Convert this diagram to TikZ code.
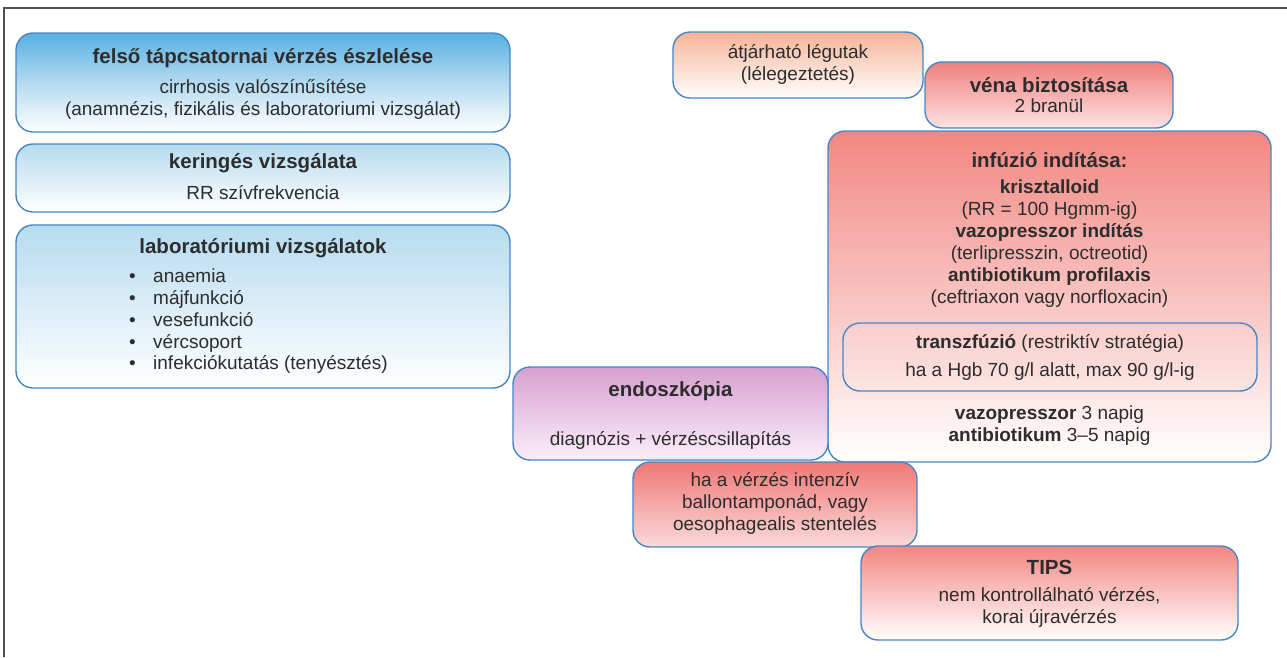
\documentclass[tikz,border=0pt]{standalone}
\usepackage{fontspec}
\setmainfont{Liberation Sans}
\definecolor{bordc}{RGB}{70,135,195}
\definecolor{txtc}{RGB}{45,45,45}
\definecolor{framec}{RGB}{80,80,80}
\definecolor{blueA}{RGB}{88,176,228}
\definecolor{blueAm}{RGB}{180,218,240}
\definecolor{blueB}{RGB}{182,219,240}
\definecolor{peach}{RGB}{246,180,152}
\definecolor{redA}{RGB}{240,128,126}
\definecolor{redAb}{RGB}{252,226,226}
\definecolor{redI}{RGB}{242,135,130}
\definecolor{redIm}{RGB}{248,200,200}
\definecolor{purp}{RGB}{216,160,210}
\definecolor{purpb}{RGB}{250,238,248}
\definecolor{redH}{RGB}{240,120,118}
\definecolor{redHb}{RGB}{250,218,218}
\newcommand{\blt}{\makebox[24pt][l]{\textbullet}}
\tikzset{
  box/.style={draw=bordc, line width=1.4pt, rounded corners=17pt, inner sep=0pt, outer sep=0pt},
  txt/.style={text=txtc, align=center, inner sep=0pt, font=\fontsize{19}{22}\selectfont},
  hd/.style={text=txtc, align=center, inner sep=0pt, font=\fontsize{20.5}{24}\selectfont\bfseries},
}
\begin{document}
\begin{tikzpicture}[x=1pt,y=-1pt]
\useasboundingbox (0,0) rectangle (1287,657);
\fill[white] (0,0) rectangle (1287,657);
\draw[framec, line width=2pt] (4,657) -- (4,8) -- (1287,8);

% left column
\node[box, top color=blueA, bottom color=white, middle color=blueAm, minimum width=494pt, minimum height=99pt] (b1) at (263,82.5) {};
\node[hd] (t1) at (263,58) {felső tápcsatornai vérzés észlelése};
\node[txt] (t1b) at (263,99) {cirrhosis valószínűsítése\\(anamnézis, fizikális és laboratoriumi vizsgálat)};

\node[box, top color=blueB, bottom color=white, minimum width=494pt, minimum height=68pt] (b2) at (263,178) {};
\node[hd] (t2) at (263,163) {keringés vizsgálata};
\node[txt] (t2b) at (263,193) {RR szívfrekvencia};

\node[box, top color=blueB, bottom color=white, minimum width=494pt, minimum height=163pt] (b3) at (263,306.5) {};
\node[hd] (t3) at (263,248) {laboratóriumi vizsgálatok};
\node[txt, align=left, anchor=west, font=\fontsize{19}{21.75}\selectfont] (t3b) at (129,321.5)
  {\blt anaemia\\\blt májfunkció\\\blt vesefunkció\\\blt vércsoport\\\blt infekciókutatás (tenyésztés)};

% infusion
\node[box, top color=redI, middle color=redIm, bottom color=white, minimum width=443pt, minimum height=331pt] (b6) at (1049.5,296.5) {};
\node[hd] (t6) at (1049.5,160) {infúzió indítása:};
\node[txt] (t6b) at (1049.5,243.5) {\textbf{krisztalloid}\\(RR = 100 Hgmm-ig)\\\textbf{vazopresszor indítás}\\(terlipresszin, octreotid)\\\textbf{antibiotikum profilaxis}\\(ceftriaxon vagy norfloxacin)};
\node[box, minimum width=414pt, minimum height=68pt] (b7) at (1050,357) {};
\node[txt] (t7) at (1050,343) {\textbf{transzfúzió} (restriktív stratégia)};
\node[txt] (t7b) at (1050,372) {ha a Hgb 70 g/l alatt, max 90 g/l-ig};
\node[txt] (t6c) at (1049.5,426) {\textbf{vazopresszor} 3 napig\\\textbf{antibiotikum} 3–5 napig};

% endoscopy
\node[box, top color=purp, bottom color=purpb, minimum width=315pt, minimum height=93pt] (b8) at (670.5,413.5) {};
\node[hd] (t8) at (670.5,391) {endoszkópia};
\node[txt] (t8b) at (670.5,440) {diagnózis + vérzéscsillapítás};

\node[box, top color=redH, bottom color=redHb, minimum width=284pt, minimum height=85pt] (b9) at (775,504.5) {};
\node[txt] (t9) at (775,503.5) {ha a vérzés intenzív\\ballontamponád, vagy\\oesophagealis stentelés};

\node[box, top color=redI, bottom color=white, minimum width=377pt, minimum height=94pt] (b10) at (1049.5,593) {};
\node[hd] (t10) at (1049.5,567) {TIPS};
\node[txt] (t10b) at (1049.5,607.5) {nem kontrollálható vérzés,\\korai újravérzés};

% top right
\node[box, top color=peach, bottom color=white, minimum width=250pt, minimum height=66pt] (b4) at (798,65) {};
\node[txt] (t4) at (798,64) {átjárható légutak\\(lélegeztetés)};

\node[box, top color=redA, bottom color=redAb, minimum width=248pt, minimum height=66pt] (b5) at (1049,95) {};
\node[hd] (t5) at (1049,85) {véna biztosítása};
\node[txt] (t5b) at (1049,106) {2 branül};
\end{tikzpicture}
\end{document}
